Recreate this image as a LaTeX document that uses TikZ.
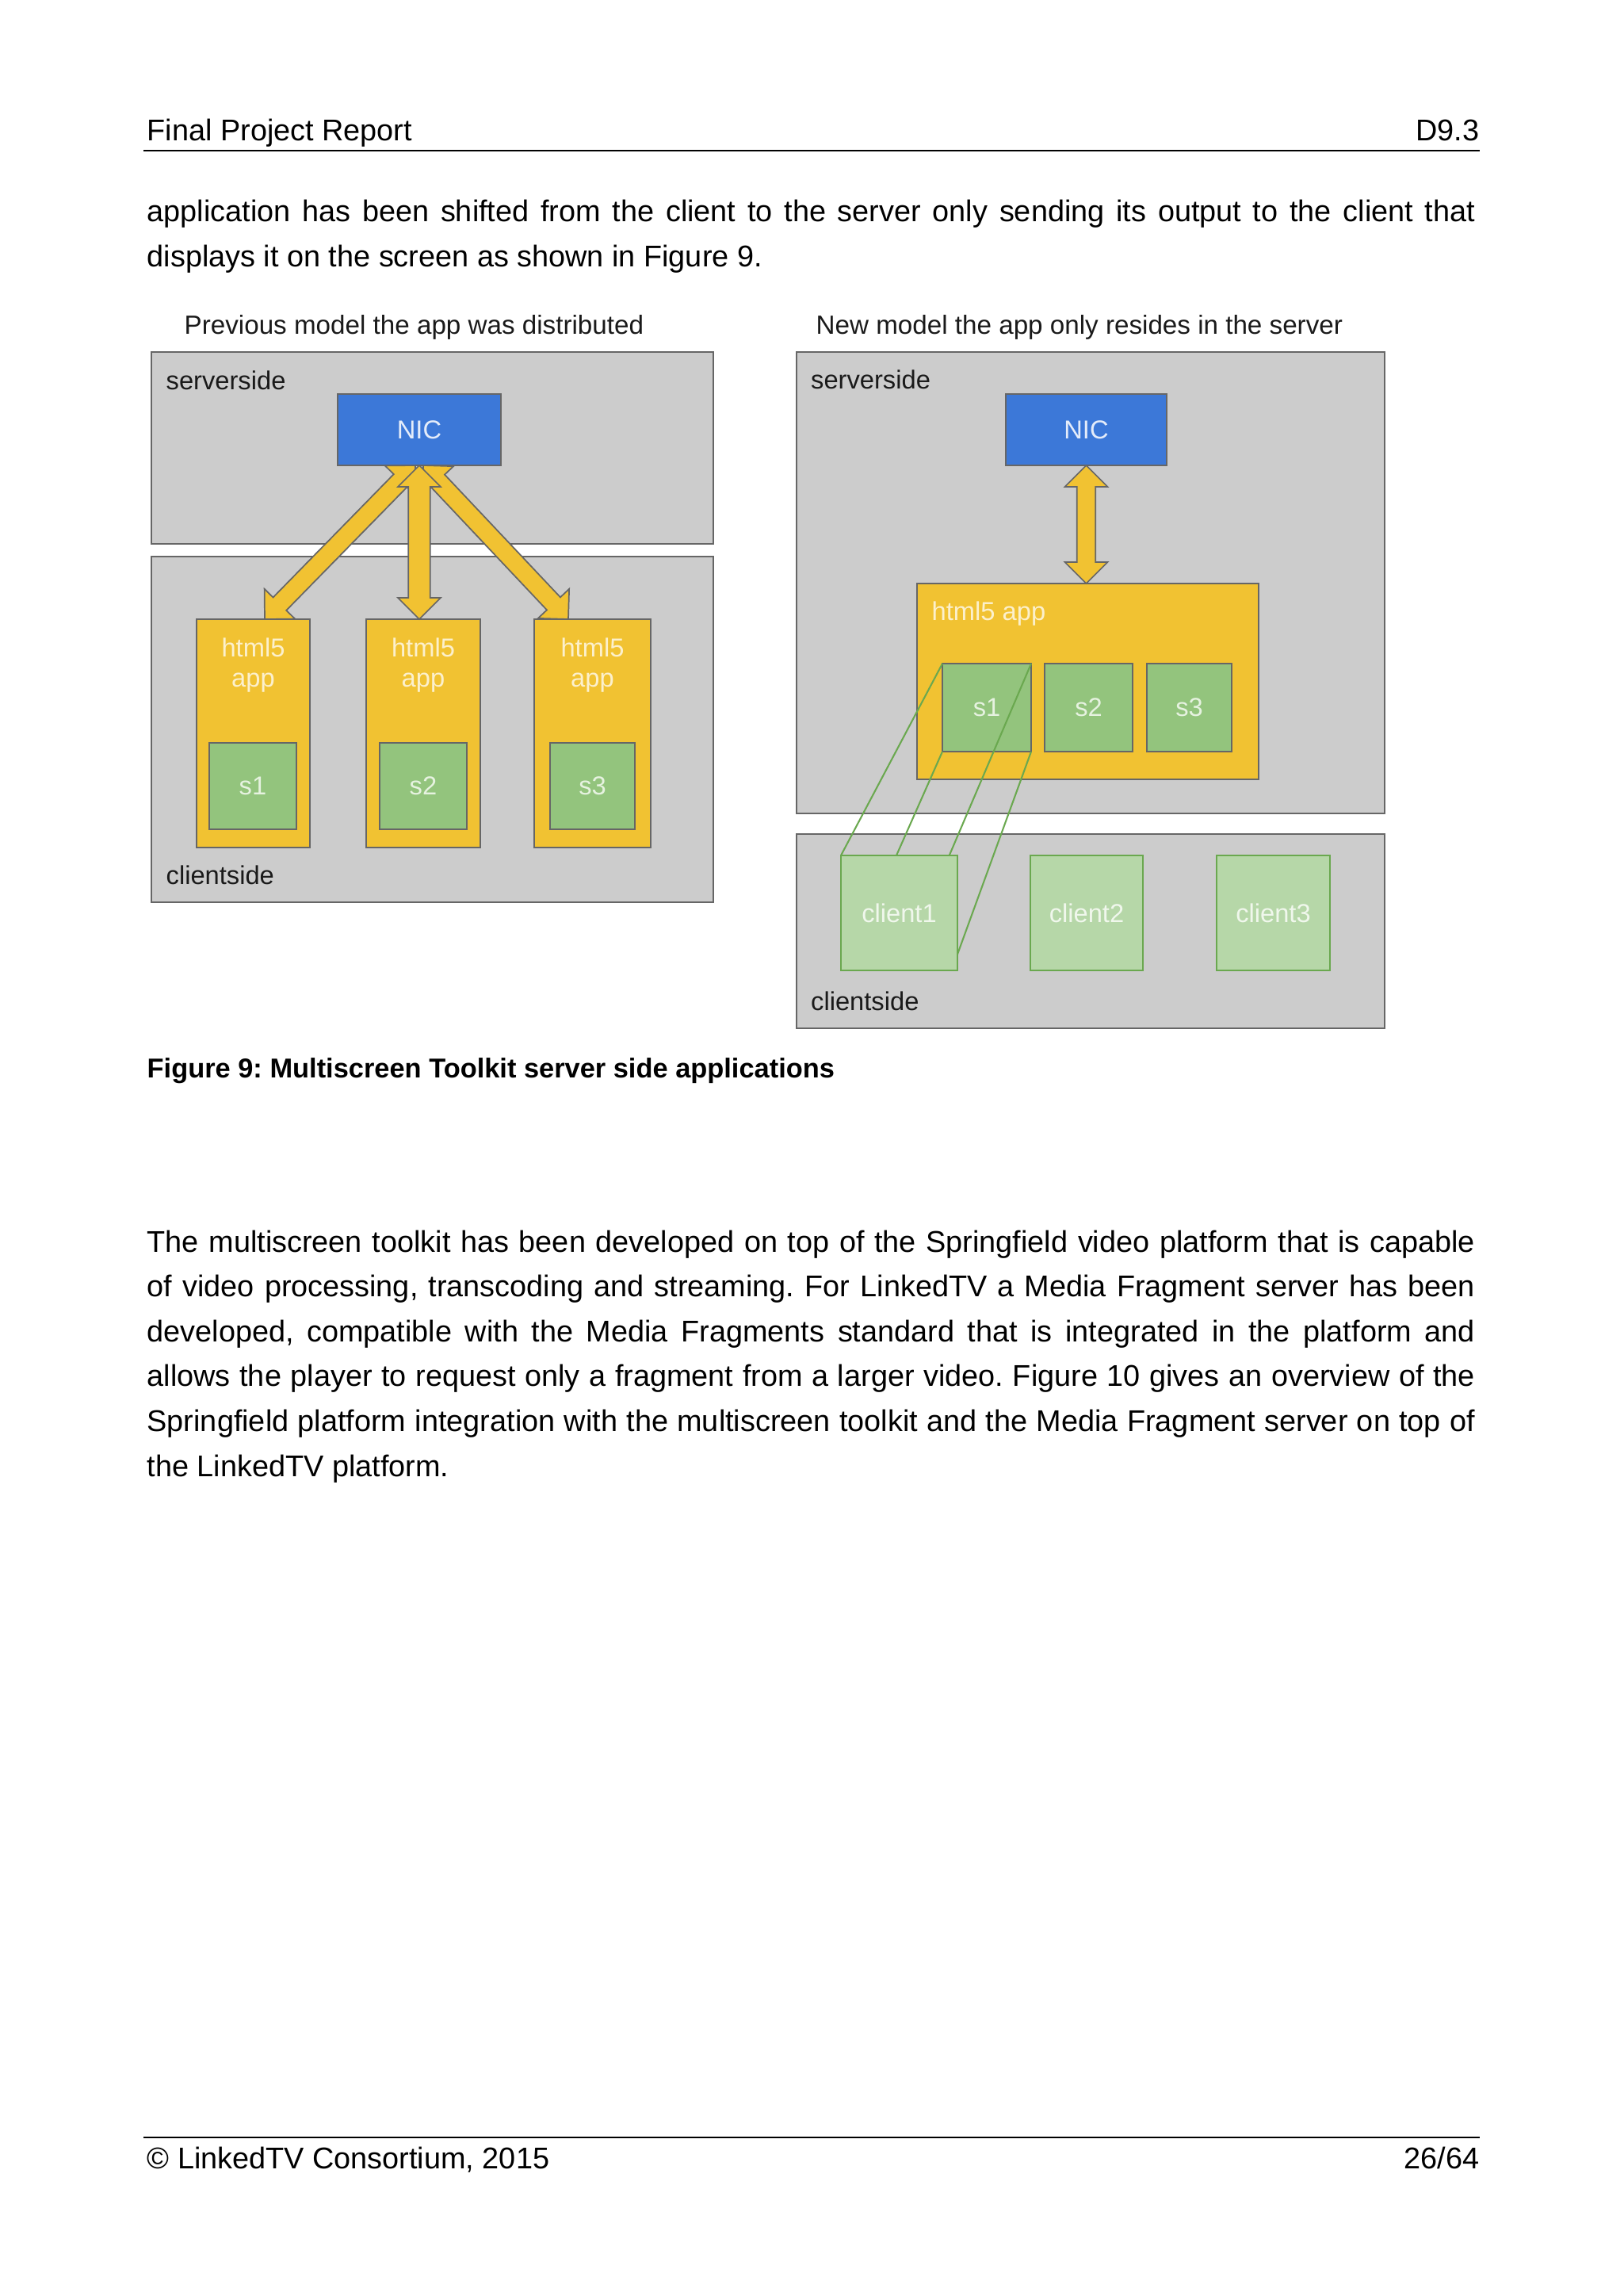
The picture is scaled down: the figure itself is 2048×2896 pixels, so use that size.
\documentclass[tikz,border=0pt]{standalone}
\usepackage{fontspec}
\setmainfont{Liberation Sans}
\usetikzlibrary{calc,fit}
\frenchspacing
\definecolor{bd}{HTML}{666666}
\definecolor{gfill}{HTML}{CCCCCC}
\definecolor{nicblue}{HTML}{3C78D8}
\definecolor{yel}{HTML}{F1C232}
\definecolor{sgreen}{HTML}{93C47D}
\definecolor{cgreen}{HTML}{B6D7A8}
\definecolor{cgreenbd}{HTML}{6AA84F}
\definecolor{lgreen}{HTML}{6AA84F}
\definecolor{lbltext}{HTML}{1A1A1A}
\definecolor{nictext}{HTML}{E4ECFA}
\definecolor{apptext}{HTML}{FCF0CC}
\definecolor{stext}{HTML}{E6F2E0}
\definecolor{ctext}{HTML}{F0F7EC}
\newcommand\bodyfont{\fontsize{11pt}{13pt}\selectfont}
\newcommand\capfont{\fontsize{10pt}{12pt}\selectfont\bfseries}
\newcommand\dfont{\fontsize{9.5pt}{11pt}\selectfont}
\newcommand\tfont{\fontsize{9.65pt}{11pt}\selectfont}
\newcommand\bx[6]{\node[#2, fit={(#3,#4) (#5,#6)}] (#1) {};}
\newcommand\fatarr[3]{%
  \path ($(#1)!7.85pt!(#2)$) coordinate (fa1) ($(#2)!7.85pt!(#1)$) coordinate (fa2);
  \draw[arrowsty] (#1) -- ($(fa1)!7.85pt!90:(#2)$) -- ($(fa1)!#3!90:(#2)$)
    -- ($(fa2)!#3!-90:(#1)$) -- ($(fa2)!7.85pt!-90:(#1)$) -- (#2)
    -- ($(fa2)!7.85pt!90:(#1)$) -- ($(fa2)!#3!90:(#1)$)
    -- ($(fa1)!#3!-90:(#2)$) -- ($(fa1)!7.85pt!-90:(#2)$) -- cycle;}
\tikzset{
  gbox/.style={draw=bd, fill=gfill, line width=0.75pt, inner sep=0pt, outer sep=0pt},
  nicbox/.style={draw=bd, fill=nicblue, line width=0.75pt, inner sep=0pt, outer sep=0pt},
  appbox/.style={draw=bd, fill=yel, line width=0.75pt, inner sep=0pt, outer sep=0pt},
  sbox/.style={draw=bd, fill=sgreen, line width=0.75pt, inner sep=0pt, outer sep=0pt},
  clbox/.style={draw=cgreenbd, fill=cgreen, line width=0.75pt, inner sep=0pt, outer sep=0pt},
  ctr/.style={anchor=center, inner sep=0pt, font=\dfont},
  arrowsty/.style={draw=bd, fill=yel, line width=0.5pt, line join=miter},
  link/.style={draw=lgreen, line width=0.6pt},
  lbl/.style={anchor=base west, inner sep=0pt, font=\dfont, text=lbltext},
  ttl/.style={anchor=base west, inner sep=0pt, font=\tfont, text=lbltext},
  applbl/.style={anchor=base, inner sep=0pt, font=\dfont, text=apptext},
  bodytxt/.style={anchor=base west, inner sep=0pt, font=\bodyfont},
  rulesty/.style={line width=0.6pt, draw=black},
}
\begin{document}
\begin{tikzpicture}[x=0.290662pt, y=-0.290662pt]
\useasboundingbox (0,0) rectangle (2048,2896);
\fill[white] (0,0) rectangle (2048,2896);

% header
\node[bodytxt] (hdl) at (185,177) {Final Project Report};
\node[bodytxt, anchor=base east] (hdr) at (1867,177) {D9.3};
\coordinate (hrA) at (181,190);
\coordinate (hrB) at (1867,190);
\draw[rulesty] (hrA) -- (hrB);

% paragraph 1
\node[bodytxt] (p1a) at (185,279) {\makebox[487pt][s]{application has been shifted from the client to the server only sending its output to the client that}};
\node[bodytxt] (p1b) at (185,336) {displays it on the screen as shown in Figure 9.};

% ---------- left diagram ----------
\node[ttl] (tL) at (232,421) {Previous model the app was distributed};
\bx{srvL}{gbox}{191}{444}{900}{686}
\bx{cliL}{gbox}{191}{702}{900}{1138}
\node[lbl] (srvLt) at (209,491) {serverside};
\node[lbl] (cliLt) at (209,1115) {clientside};
\bx{nicL}{nicbox}{426}{497}{632}{587}
\node[ctr, text=nictext] (nicLt) at (nicL.center) {NIC};
\bx{appL1}{appbox}{248}{781}{391}{1069}
\bx{appL2}{appbox}{462}{781}{606}{1069}
\bx{appL3}{appbox}{674}{781}{821}{1069}
\bx{sL1}{sbox}{264}{937}{374}{1046}
\bx{sL2}{sbox}{479}{937}{589}{1046}
\bx{sL3}{sbox}{694}{937}{801}{1046}
\node[ctr, text=stext] (sL1t) at (sL1.center) {s1};
\node[ctr, text=stext] (sL2t) at (sL2.center) {s2};
\node[ctr, text=stext] (sL3t) at (sL3.center) {s3};
\foreach \a in {appL1,appL2,appL3}{
  \node[applbl] (\a h) at ($(\a.north)+(0,47)$) {html5};
  \node[applbl] (\a p) at ($(\a.north)+(0,85)$) {app};
}
\coordinate (aLt) at ($(nicL.south)+(-5,0)$);
\coordinate (aLb) at ($(appL1.north west)+(86,0)$);
\coordinate (aMb) at (nicL.south |- appL2.north);
\coordinate (aRt) at ($(nicL.south)+(5,0)$);
\coordinate (aRb) at ($(appL3.north west)+(43,0)$);
\fatarr{aLt}{aLb}{3.4pt}
\fatarr{aRt}{aRb}{3.4pt}
\fatarr{nicL.south}{aMb}{4.0pt}

% ---------- right diagram ----------
\node[ttl] (tR) at (1029,421.5) {New model the app only resides in the server};
\bx{srvR}{gbox}{1005}{444}{1747}{1026}
\bx{cliR}{gbox}{1005}{1052}{1747}{1297}
\node[lbl] (srvRt) at (1022.5,490) {serverside};
\node[lbl] (cliRt) at (1022.5,1274) {clientside};
\bx{nicR}{nicbox}{1269}{497}{1472}{587}
\node[ctr, text=nictext] (nicRt) at (nicR.center) {NIC};
\bx{appR}{appbox}{1157}{736}{1588}{983}
\node[applbl, anchor=base west] (appRt) at (1175,782) {html5 app};
\bx{sR1}{sbox}{1189}{837}{1301}{948}
\bx{sR2}{sbox}{1318}{837}{1429}{948}
\bx{sR3}{sbox}{1447}{837}{1554}{948}
\node[ctr, text=stext] (sR1t) at (sR1.center) {s1};
\node[ctr, text=stext] (sR2t) at (sR2.center) {s2};
\node[ctr, text=stext] (sR3t) at (sR3.center) {s3};
\bx{c1}{clbox}{1061}{1079}{1208}{1224}
\bx{c2}{clbox}{1300}{1079}{1442}{1224}
\bx{c3}{clbox}{1535}{1079}{1678}{1224}
\node[ctr, text=ctext] (c1t) at (c1.center) {client1};
\node[ctr, text=ctext] (c2t) at (c2.center) {client2};
\node[ctr, text=ctext] (c3t) at (c3.center) {client3};
\coordinate (aNb) at (nicR.south |- appR.north);
\fatarr{nicR.south}{aNb}{3.4pt}
\coordinate (c1m) at ($(c1.north west)!0.476!(c1.north east)$);
\coordinate (c1r) at ($(c1.north west)!0.93!(c1.north east)$);
\coordinate (c1s) at ($(c1.north east)!0.86!(c1.south east)$);
\draw[link] (sR1.north west) -- (c1.north west);
\draw[link] (sR1.south west) -- (c1m);
\draw[link] (sR1.north east) -- (c1r);
\draw[link] (sR1.south east) -- (c1s);

% caption
\node[anchor=base west, inner sep=0pt, font=\capfont] (cap) at (185,1359) {Figure 9: Multiscreen Toolkit server side applications};

% paragraph 2
\node[bodytxt] (p2a) at (185,1579) {\makebox[487pt][s]{The multiscreen toolkit has been developed on top of the Springfield video platform that is capable}};
\node[bodytxt] (p2b) at (185,1635.6) {\makebox[487pt][s]{of video processing, transcoding and streaming. For LinkedTV a Media Fragment server has been}};
\node[bodytxt] (p2c) at (185,1692.2) {\makebox[487pt][s]{developed, compatible with the Media Fragments standard that is integrated in the platform and}};
\node[bodytxt] (p2d) at (185,1748.8) {\makebox[487pt][s]{allows the player to request only a fragment from a larger video. Figure 10 gives an overview of the}};
\node[bodytxt] (p2e) at (185,1805.4) {\makebox[487pt][s]{Springfield platform integration with the multiscreen toolkit and the Media Fragment server on top of}};
\node[bodytxt] (p2f) at (185,1862) {the LinkedTV platform.};

% footer
\coordinate (frA) at (181,2696);
\coordinate (frB) at (1867,2696);
\draw[rulesty] (frA) -- (frB);
\node[bodytxt] (ftl) at (185,2735) {© LinkedTV Consortium, 2015};
\node[bodytxt, anchor=base east] (ftr) at (1867,2735) {26/64};
\end{tikzpicture}
\end{document}
